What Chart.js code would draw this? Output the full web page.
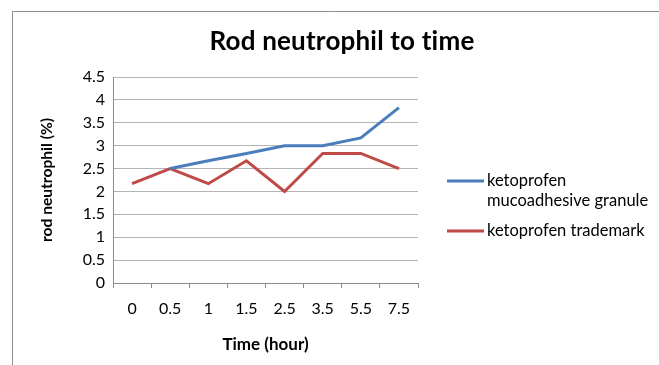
<!DOCTYPE html>
<html>
<head>
<meta charset="utf-8">
<script src="https://cdn.jsdelivr.net/npm/chart.js@4"></script>
<style>
    html, body { margin: 0; padding: 0; background: #fff; }
    #wrap { width: 659px; height: 365px; }
</style>
</head>
<body>
<div id="wrap"><canvas id="neutrophilChart" width="659" height="365"></canvas></div>
<script>
const timeLabels = ['0', '0.5', '1', '1.5', '2.5', '3.5', '5.5', '7.5'];
const granuleValues = [null, 2.5, 2.67, 2.83, 3.0, 3.0, 3.17, 3.83];
const trademarkValues = [2.17, 2.5, 2.17, 2.67, 2.0, 2.83, 2.83, 2.5];
const granuleLegend = ['ketoprofen', 'mucoadhesive granule'];
const trademarkLegend = ['ketoprofen trademark'];
const chartTitle = 'Rod neutrophil to time';

const fontFamily = 'Lato, "Liberation Sans", sans-serif';

// frame, title and a legend with a wrapped label
const framePlugin = {
    id: 'frame',
    afterDraw(chart) {
        const c = chart.ctx;
        c.save();
        c.strokeStyle = '#8c8c8c';
        c.lineWidth = 1;
        c.beginPath();
        c.moveTo(12.5, 365);
        c.lineTo(12.5, 11.5);
        c.lineTo(659, 11.5);
        c.stroke();

        c.fillStyle = '#000';
        c.textAlign = 'center';
        c.textBaseline = 'middle';
        c.font = 'bold 26px ' + fontFamily;
        c.letterSpacing = '0.2px'; // keeps "ti" from turning into a ligature
        c.fillText(chartTitle, 342, 42);
        c.letterSpacing = '0px';

        const items = [
            { lines: granuleLegend, color: chart.data.datasets[0].borderColor, y: 181 },
            { lines: trademarkLegend, color: chart.data.datasets[1].borderColor, y: 231 }
        ];
        c.textAlign = 'left';
        c.font = '16.5px ' + fontFamily;
        items.forEach(item => {
            c.strokeStyle = item.color;
            c.lineWidth = 3;
            c.beginPath();
            c.moveTo(447, item.y);
            c.lineTo(484, item.y);
            c.stroke();
            item.lines.forEach((t, i) => c.fillText(t, 487, item.y + i * 20));
        });
        c.restore();
    }
};

new Chart(document.getElementById('neutrophilChart'), {
    type: 'line',
    data: {
        labels: timeLabels,
        datasets: [{
            label: granuleLegend.join(' '),
            data: granuleValues,
            borderColor: '#4a7ebb',
            borderWidth: 3,
            pointRadius: 0,
            tension: 0
        }, {
            label: trademarkLegend.join(' '),
            data: trademarkValues,
            borderColor: '#be4b48',
            borderWidth: 3,
            pointRadius: 0,
            tension: 0
        }]
    },
    options: {
        responsive: false,
        animation: false,
        layout: {
            padding: { left: 35, right: 241, top: 77, bottom: 10 }
        },
        plugins: {
            legend: { display: false },
            tooltip: { enabled: false },
            title: { display: false }
        },
        scales: {
            x: {
                offset: true,
                grid: {
                    offset: true,
                    drawOnChartArea: false,
                    drawTicks: true,
                    tickLength: 5,
                    color: '#8c8c8c'
                },
                border: { color: '#8c8c8c' },
                ticks: {
                    color: '#000',
                    padding: 11,
                    maxRotation: 0,
                    font: { family: fontFamily, size: 16 }
                },
                title: {
                    display: true,
                    text: 'Time (hour)',
                    color: '#000',
                    font: { family: fontFamily, size: 17, weight: 'bold' },
                    padding: { top: 3, bottom: 0 }
                },
                afterFit(scale) { scale.height = 72; }
            },
            y: {
                min: 0,
                max: 4.5,
                ticks: {
                    stepSize: 0.5,
                    color: '#000',
                    padding: 8,
                    font: { family: fontFamily, size: 16 },
                    callback: v => String(v)
                },
                grid: { color: '#b4b4b4', drawTicks: false },
                border: { color: '#8c8c8c' },
                title: {
                    display: true,
                    text: 'rod neutrophil (%)',
                    color: '#000',
                    font: { family: fontFamily, size: 15.6, weight: 'bold' },
                    padding: { top: 2.5, bottom: 0 }
                },
                afterFit(scale) { scale.width = 78; }
            }
        }
    },
    plugins: [framePlugin]
});
</script>
</body>
</html>
